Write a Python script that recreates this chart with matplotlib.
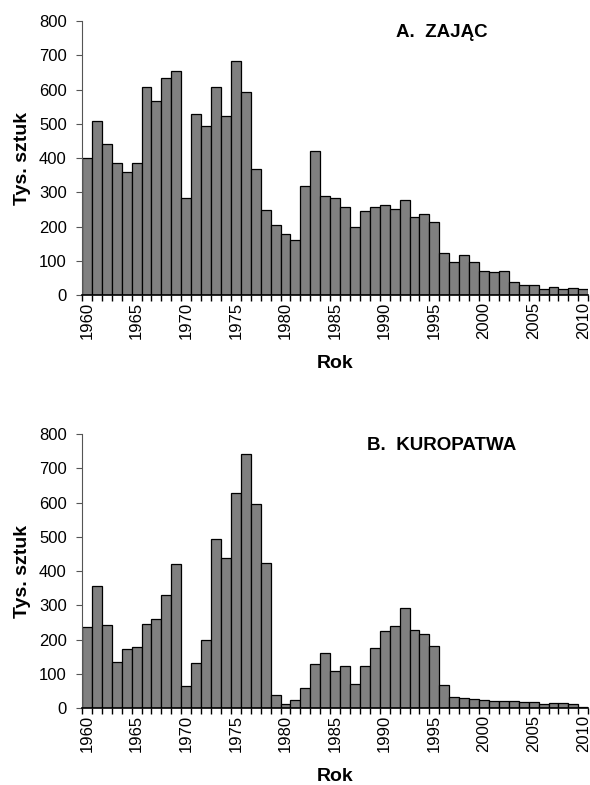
import matplotlib
matplotlib.use("Agg")
import matplotlib.pyplot as plt  # noqa: E402
from matplotlib.ticker import FixedLocator  # noqa: E402

plt.rcParams["font.family"] = ["Liberation Sans", "DejaVu Sans"]

# ─── Dane (tys. sztuk) ─────────────────────────────────────────────────────

LATA = list(range(1960, 2011))
LATA_ETYKIETY = list(range(1960, 2011, 5))

ZAJAC = [400, 509, 441, 386, 360, 386, 607, 567, 635, 654,
         285, 528, 494, 607, 522, 685, 593, 369, 250, 206,
         179, 161, 318, 420, 290, 284, 258, 200, 246, 258,
         262, 253, 278, 228, 238, 213, 123, 98, 118, 98,
         72, 68, 71, 39, 30, 30, 18, 25, 18, 22, 18]

KUROPATWA = [236, 356, 243, 135, 172, 178, 246, 260, 329, 420,
             63, 132, 199, 495, 437, 627, 742, 597, 423, 38,
             12, 24, 60, 129, 160, 107, 122, 70, 122, 175,
             224, 240, 292, 227, 217, 181, 67, 32, 29, 27,
             24, 20, 20, 20, 17, 17, 11, 15, 15, 11, 2]

TYTUL_A = "A.  ZAJĄC"
TYTUL_B = "B.  KUROPATWA"


def rysuj_panel(ax, wartosci, tytul):
    ax.bar(LATA, wartosci, width=1.0, color="#808080",
           edgecolor="black", linewidth=0.9)
    ax.set_xlim(LATA[0] - 0.5, LATA[-1] + 0.5)
    ax.set_ylim(0, 800)
    ax.set_yticks(range(0, 801, 100))

    # etykiety co 5 lat, kreski między kategoriami (jak w Excelu)
    ax.set_xticks(LATA_ETYKIETY)
    ax.set_xticklabels([str(r) for r in LATA_ETYKIETY], rotation=90)
    ax.xaxis.set_minor_locator(FixedLocator([r - 0.5 for r in LATA] + [LATA[-1] + 0.5]))
    ax.tick_params(axis="x", which="major", length=0, pad=5, labelsize=12)
    ax.tick_params(axis="x", which="minor", length=4, width=1, direction="out")
    ax.tick_params(axis="y", length=4, width=0.8, direction="out",
                   color="#555555", pad=7, labelsize=12)

    for s in ("top", "right"):
        ax.spines[s].set_visible(False)
    ax.spines["left"].set_color("#555555")
    ax.spines["left"].set_linewidth(0.8)
    ax.spines["bottom"].set_linewidth(1.2)

    ax.text(0.71, 0.96, tytul, transform=ax.transAxes, ha="center",
            va="center", fontsize=13.5, fontweight="bold")
    ax.text(-0.117, 0.5, "Tys. sztuk", transform=ax.transAxes, rotation=90,
            ha="center", va="center", fontsize=14, fontweight="bold")
    ax.text(0.5, -0.248, "Rok", transform=ax.transAxes, ha="center",
            va="center", fontsize=14, fontweight="bold")


def main():
    fig = plt.figure(figsize=(5.9, 7.85), dpi=100)
    ax_a = fig.add_axes([0.139, 0.624, 0.858, 0.349])
    ax_b = fig.add_axes([0.139, 0.098, 0.858, 0.349])
    rysuj_panel(ax_a, ZAJAC, TYTUL_A)
    rysuj_panel(ax_b, KUROPATWA, TYTUL_B)
    fig.savefig("out.png", dpi=100, facecolor="white")
    plt.close(fig)


if __name__ == "__main__":
    main()
